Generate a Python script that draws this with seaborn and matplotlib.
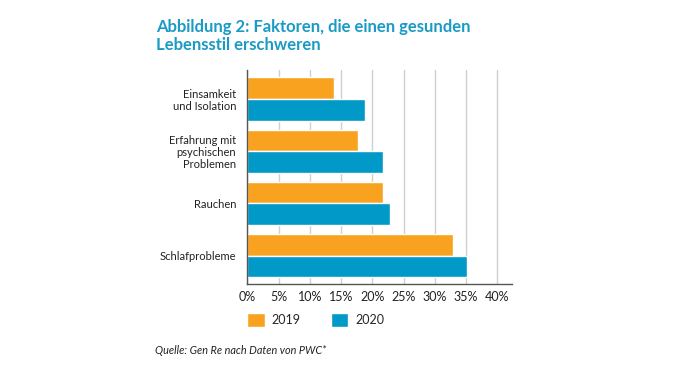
import numpy as np
import pandas as pd
import seaborn as sns
import matplotlib.pyplot as plt
from matplotlib.ticker import FuncFormatter

# Daten
kategorien = ["Einsamkeit\nund Isolation", "Erfahrung mit\npsychischen\nProblemen",
              "Rauchen", "Schlafprobleme"]
werte_2019 = [13.8, 17.7, 21.7, 32.9]
werte_2020 = [18.8, 21.7, 22.8, 35.1]
jahre = ["2019", "2020"]
x_ticks = [0, 5, 10, 15, 20, 25, 30, 35, 40]

farben = {"2019": "#F8A21F", "2020": "#0099C8"}
titel_farbe = "#1A9BC6"

df = pd.DataFrame({
    "Faktor": kategorien * 2,
    "Jahr": [jahre[0]] * 4 + [jahre[1]] * 4,
    "Wert": werte_2019 + werte_2020,
})

sns.set_style("white")
plt.rcParams["font.family"] = ["Lato", "DejaVu Sans"]

fig = plt.figure(figsize=(6.74, 3.65), dpi=100)
ax = fig.add_axes([0.367, 0.221, 0.392, 0.587])

sns.barplot(data=df, y="Faktor", x="Wert", hue="Jahr", orient="h",
            palette=farben, width=0.83, saturation=1, ax=ax, order=kategorien,
            hue_order=jahre)

ax.set_xlim(0, 42.3)
ax.set_ylim(3.553, -0.556)
ax.set_xticks(x_ticks)
ax.xaxis.set_major_formatter(FuncFormatter(lambda v, p: f"{v:.0f}%"))
ax.grid(axis="x", color="#cfcfcf", linewidth=1)
ax.set_axisbelow(True)
ax.set_xlabel("")
ax.set_ylabel("")

for s in ["top", "right"]:
    ax.spines[s].set_visible(False)
ax.spines["left"].set_color("#555555")
ax.spines["bottom"].set_color("#555555")
ax.spines["left"].set_linewidth(1)
ax.spines["bottom"].set_linewidth(1)

ax.tick_params(axis="x", length=2.5, color="#bbbbbb", labelsize=9,
               labelcolor="#222222", pad=2)
ax.tick_params(axis="y", length=0, labelsize=8, labelcolor="#222222", pad=8)
for lab in ax.get_yticklabels():
    lab.set_linespacing(1.1)
    lab.set_horizontalalignment("right")

sns.move_legend(ax, "upper left", bbox_to_anchor=(247.3 / 674, 1 - 313 / 365),
                bbox_transform=fig.transFigure, ncol=2, frameon=False,
                title=None, fontsize=9, handlelength=1.4, handleheight=1.4,
                handletextpad=0.55, columnspacing=2.4, borderpad=0,
                borderaxespad=0)

fig.text(155.7 / 674, 1 - 19 / 365,
         "Abbildung 2: Faktoren, die einen gesunden\nLebensstil erschweren",
         color=titel_farbe, fontsize=12, fontweight="bold", va="top",
         ha="left", linespacing=1.15)

fig.text(155 / 674, 1 - 350 / 365, "Quelle: Gen Re nach Daten von PWC*",
         fontsize=7.8, style="italic", color="#222222", va="center", ha="left")

fig.savefig("out.png", dpi=100)
